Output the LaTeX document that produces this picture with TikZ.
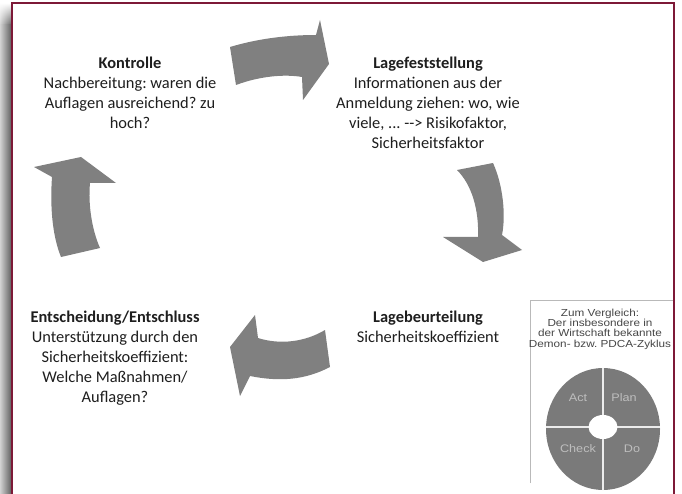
\documentclass[tikz,border=0pt]{standalone}
\usepackage{fontspec}
\setmainfont{Carlito}
\newfontfamily\arialf[FakeStretch=1.15]{Liberation Sans}
\usetikzlibrary{fadings}
\definecolor{arrowgray}{RGB}{128,128,128}
\definecolor{pdcagray}{RGB}{122,122,122}
\definecolor{framered}{RGB}{125,25,55}
\definecolor{txt}{RGB}{30,30,30}
\definecolor{boxtxt}{RGB}{70,70,70}
\definecolor{lbl}{RGB}{190,190,190}
\frenchspacing
\tikzset{
  stagetext/.style={align=center, inner sep=0pt, text=txt, font=\fontsize{16.4}{20}\selectfont, anchor=north},
  cyclearrow/.style={fill=arrowgray, draw=none},
  pdcalabel/.style={text=lbl, font=\arialf\fontsize{11}{12}\selectfont, inner sep=0pt},
  boxtext/.style={align=center, inner sep=0pt, text=boxtxt, font=\arialf\fontsize{10.2}{10.3}\selectfont}
}
\begin{document}
\begin{tikzpicture}[x=1pt,y=-1pt]
\useasboundingbox (0,0) rectangle (682,494);
\fill[white] (0,0) rectangle (682,494);
% shadow on the left
\shade[left color=gray!35, right color=black!65] (0,25) rectangle (12,494);
\shade[left color=gray!35, right color=black!65, path fading=north] (0,3) rectangle (12,25);
% frame
\draw[framered, line width=1.4pt] (12,494) -- (12,3) -- (674,3) -- (674,494);

% stage texts
\node[stagetext] (kontrolle) at (130,57) {\textbf{Kontrolle}\\Nachbereitung: waren die\\Auflagen ausreichend? zu\\hoch?};
\node[stagetext] (lagefest) at (428,57) {\textbf{Lagefeststellung}\\Informationen aus der\\Anmeldung ziehen: wo, wie\\viele, ... -{}-> Risikofaktor,\\Sicherheitsfaktor};
\node[stagetext] (lagebeur) at (428,311) {\textbf{Lagebeurteilung}\\Sicherheitskoeffizient};
\node[stagetext] (entsch) at (115,311) {\textbf{Entscheidung/Entschluss}\\Unterstützung durch den\\Sicherheitskoeffizient:\\Welche Maßnahmen/\\Auflagen?};

% cycle arrows
\fill[cyclearrow] (230,47) .. controls (260,38) and (290,35) .. (316,35) -- (320,20) -- (329,64) -- (303,100) -- (302,77) .. controls (285,74) and (260,76) .. (236,85) -- cycle;
\fill[cyclearrow] (457,170) -- (493,163) .. controls (503,185) and (506,215) .. (502,235) -- (522,250) -- (483,262) -- (443,237) -- (478,237) .. controls (479,210) and (472,185) .. (457,170) -- cycle;
\fill[cyclearrow] (325,330) -- (330,367) .. controls (305,380) and (280,382) .. (250,376) -- (240,396) -- (230,347) -- (255,315) -- (258,338) .. controls (280,345) and (305,342) .. (325,330) -- cycle;
\fill[cyclearrow] (61,257) .. controls (52,235) and (50,205) .. (52,177) -- (34,167) -- (81,157) -- (116,183) -- (90,183) .. controls (88,205) and (92,230) .. (100,248) -- cycle;

% PDCA box
\draw[gray!55, line width=0.8pt] (530,483) -- (530,300) -- (673,300);
\node[boxtext] (boxtitle) at (600,329) {Zum Vergleich:\\Der insbesondere in\\der Wirtschaft bekannte\\Demon- bzw. PDCA-Zyklus};
\fill[pdcagray] (603,429) ellipse [x radius=57pt, y radius=61pt];
\draw[white!85!gray, line width=1.3pt] (603,368) -- (603,490);
\draw[white!85!gray, line width=1.3pt] (546,427) -- (660,427);
\fill[white] (603,427) ellipse [x radius=14.5pt, y radius=12pt];
\node[pdcalabel] (act) at (578,398) {Act};
\node[pdcalabel] (plan) at (624,398) {Plan};
\node[pdcalabel] (check) at (578,449) {Check};
\node[pdcalabel] (do) at (632,449) {Do};
\end{tikzpicture}
\end{document}
